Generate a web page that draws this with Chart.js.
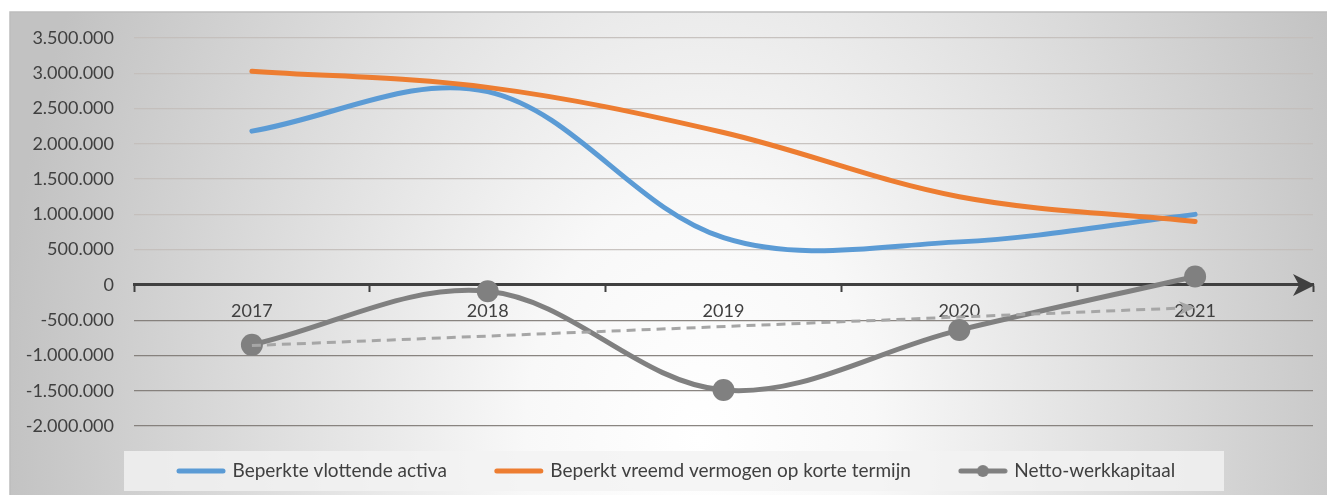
<!DOCTYPE html>
<html><head><meta charset="utf-8">
<script src="https://cdn.jsdelivr.net/npm/chart.js@4.4.1/dist/chart.umd.min.js"></script>
<style>html,body{margin:0;padding:0;background:#fff;overflow:hidden}#wrap{position:relative;width:1327px;height:495px}</style>
</head><body><div id="wrap"><canvas id="c" width="1327" height="495"></canvas></div>
<script>
// ---- data ----
const categories = ['2017', '2018', '2019', '2020', '2021'];
const vlottendeActiva = [2180000, 2740000, 670000, 610000, 1000000];
const vreemdVermogen = [3030000, 2800000, 2160000, 1250000, 900000];
const nettoWerkkapitaal = [-850000, -90000, -1490000, -640000, 120000];
const trendNetto = [-860000, null, null, null, -320000];
const seriesNames = ['Beperkte vlottende activa', 'Beperkt vreemd vermogen op korte termijn', 'Netto-werkkapitaal'];
const yMin = -2000000, yMax = 3500000, yStep = 500000;

const FONT = 'Lato';
const TEXT = '#404040';
const C_BLUE = '#5b9bd5', C_ORANGE = '#ed7d31', C_GREY = '#808080', C_TREND = '#a6a6a6';

function fmt(v) {
  const s = Math.abs(Math.round(v)).toString().replace(/\B(?=(\d{3})+(?!\d))/g, '.');
  return v < 0 ? '-' + s : s;
}

// legend icon for the marker series
const greyIcon = document.createElement('canvas');
greyIcon.width = 50; greyIcon.height = 14;
(function () {
  const g = greyIcon.getContext('2d');
  g.strokeStyle = C_GREY; g.lineWidth = 5; g.lineCap = 'round';
  g.beginPath(); g.moveTo(3, 7); g.lineTo(47, 7); g.stroke();
  g.fillStyle = C_GREY; g.beginPath(); g.arc(25, 7, 6, 0, Math.PI * 2); g.fill();
})();

const bgPlugin = {
  id: 'bg',
  beforeDraw(chart) {
    const ctx = chart.ctx;
    ctx.save();
    ctx.fillStyle = '#fff';
    ctx.fillRect(0, 0, chart.width, chart.height);
    const x0 = 10, y0 = 12, x1 = chart.width, y1 = chart.height;
    const cx = 700, cy = 440, rx = 700, ry = 1000;
    ctx.save();
    ctx.translate(cx, cy);
    ctx.scale(1, ry / rx);
    const g = ctx.createRadialGradient(0, 0, 0, 0, 0, rx);
    g.addColorStop(0, '#ffffff');
    g.addColorStop(0.25, '#f8f8f8');
    g.addColorStop(1, '#c2c2c2');
    ctx.fillStyle = g;
    ctx.fillRect(x0 - cx, (y0 - cy) * rx / ry, x1 - x0, (y1 - y0) * rx / ry);
    ctx.restore();
    ctx.strokeStyle = '#bdbdbd'; ctx.lineWidth = 1.5;
    ctx.beginPath(); ctx.moveTo(x0, y1); ctx.lineTo(x0, y0); ctx.lineTo(x1, y0); ctx.stroke();
    // legend panel
    ctx.fillStyle = 'rgba(242,242,242,0.8)';
    ctx.fillRect(124, 451, 1100, 40);
    ctx.restore();
  }
};

const legendShift = {
  id: 'legendShift',
  afterLayout(chart) {
    const lg = chart.legend;
    if (!lg || !lg.lineWidths) return;
    const pad = lg.options.labels.padding;
    const start = (lg.left + pad + lg.right - lg.lineWidths[0]) / 2;
    const dx = 179 - start;
    lg.left += dx; lg.right += dx;
    const fs = lg.options.labels.font.size;
    const textCenter = lg.top + pad + fs / 2;
    const dy = 471 - textCenter;
    lg.top += dy; lg.bottom += dy;
  }
};

const arrows = {
  id: 'arrows',
  afterDatasetsDraw(chart) {
    const ctx = chart.ctx;
    const y0 = chart.scales.y.getPixelForValue(0);
    const xr = chart.chartArea.right + 2;
    ctx.save();
    ctx.fillStyle = TEXT;
    ctx.beginPath();
    ctx.moveTo(xr, y0);
    ctx.lineTo(xr - 22, y0 - 11);
    ctx.lineTo(xr - 16, y0);
    ctx.lineTo(xr - 22, y0 + 11);
    ctx.closePath(); ctx.fill();
    // trend arrowhead
    const meta = chart.getDatasetMeta(3);
    const pts = meta.data.filter((p, i) => trendNetto[i] !== null);
    if (pts.length >= 2) {
      const a = pts[0], b = pts[pts.length - 1];
      const ang = Math.atan2(b.y - a.y, b.x - a.x);
      ctx.translate(b.x, b.y); ctx.rotate(ang);
      ctx.fillStyle = C_TREND;
      ctx.beginPath();
      ctx.moveTo(0, 0); ctx.lineTo(-16, -7); ctx.lineTo(-11, 0); ctx.lineTo(-16, 7);
      ctx.closePath(); ctx.fill();
    }
    ctx.restore();
  }
};

new Chart(document.getElementById('c'), {
  type: 'line',
  data: {
    labels: categories,
    datasets: [
      { label: seriesNames[0], data: vlottendeActiva, borderColor: C_BLUE, backgroundColor: C_BLUE, borderWidth: 5, borderCapStyle: 'round', pointRadius: 0, tension: 0.35, order: 3 },
      { label: seriesNames[1], data: vreemdVermogen, borderColor: C_ORANGE, backgroundColor: C_ORANGE, borderWidth: 5, borderCapStyle: 'round', pointRadius: 0, tension: 0.35, order: 2 },
      { label: seriesNames[2], data: nettoWerkkapitaal, borderColor: C_GREY, backgroundColor: C_GREY, borderWidth: 5, borderCapStyle: 'round', pointRadius: 11, pointBackgroundColor: C_GREY, pointBorderWidth: 0, tension: 0.35, order: 1 },
      { label: 'trend', data: trendNetto, spanGaps: true, borderColor: C_TREND, borderWidth: 3, borderDash: [9, 6], pointRadius: 0, tension: 0, order: 0 }
    ]
  },
  options: {
    responsive: false,
    animation: false,
    events: [],
    layout: { padding: { left: 10, right: 14, top: 38, bottom: -10 } },
    scales: {
      x: {
        position: { y: 0 },
        offset: true,
        grid: { display: true, drawOnChartArea: false, drawTicks: true, tickLength: 6, tickWidth: 2, tickColor: TEXT, offset: true },
        border: { display: true, color: TEXT, width: 3 },
        ticks: { color: TEXT, font: { family: FONT, size: 18 }, padding: 9, maxRotation: 0 }
      },
      y: {
        min: yMin, max: yMax,
        ticks: { stepSize: yStep, callback: (v) => fmt(v), color: TEXT, font: { family: FONT, size: 18 }, padding: 20 },
        grid: { drawTicks: false, lineWidth: 1.3, color: (c) => (c.tick && c.tick.value < 0) ? 'rgba(125,120,115,0.9)' : 'rgba(195,190,186,0.9)' },
        border: { display: false },
        afterFit: (s) => { s.width = 124; }
      }
    },
    plugins: {
      tooltip: { enabled: false },
      legend: {
        position: 'bottom',
        labels: {
          usePointStyle: true, pointStyleWidth: 44, padding: 50, color: TEXT,
          font: { family: FONT, size: 19 },
          generateLabels: (chart) => chart.data.datasets.slice(0, 3).map((ds, i) => ({
            text: ds.label, datasetIndex: i, fontColor: TEXT,
            strokeStyle: ds.borderColor, fillStyle: ds.borderColor, lineWidth: 5, lineCap: 'round',
            pointStyle: i === 2 ? greyIcon : 'line', hidden: false
          }))
        }
      }
    }
  },
  plugins: [bgPlugin, legendShift, arrows]
});
</script>
</body></html>
